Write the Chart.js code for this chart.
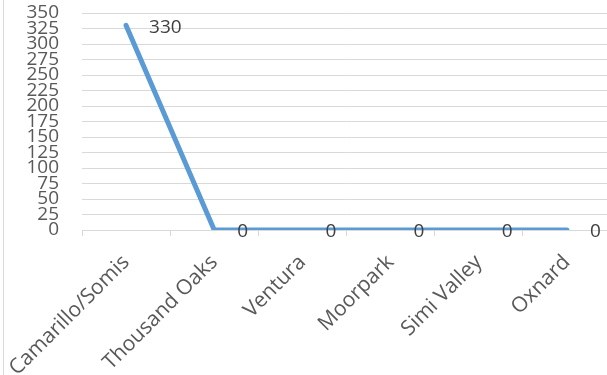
<!DOCTYPE html>
<html>
<head>
<meta charset="utf-8">
<script src="https://cdn.jsdelivr.net/npm/chart.js@4.4.1/dist/chart.umd.min.js"></script>
<style>
    html, body { margin: 0; padding: 0; overflow: hidden; background: #fff; }
    #wrap { position: relative; width: 620px; height: 375px; }
    #frame { position: absolute; left: 3px; top: 0; width: 0; height: 375px; border-left: 1px solid #d9d9d9; }
</style>
</head>
<body>
<div id="wrap">
    <canvas id="chartCanvas" width="620" height="375"></canvas>
    <div id="frame"></div>
</div>
<script>
// datos
const categories = ["Camarillo/Somis", "Thousand Oaks", "Ventura", "Moorpark", "Simi Valley", "Oxnard"];
const seriesValues = [330, 0, 0, 0, 0, 0];
const yTicks = [0, 25, 50, 75, 100, 125, 150, 175, 200, 225, 250, 275, 300, 325, 350];

const fontFamily = "'Open Sans', sans-serif";

// etiquetas de datos a la derecha de cada punto
const dataLabels = {
    id: "dataLabels",
    afterDatasetsDraw(chart) {
        const ctx = chart.ctx;
        const meta = chart.getDatasetMeta(0);
        ctx.save();
        ctx.font = "19px " + fontFamily;
        ctx.fillStyle = "#404040";
        ctx.textAlign = "left";
        ctx.textBaseline = "middle";
        meta.data.forEach((pt, i) => {
            ctx.fillText(String(seriesValues[i]), pt.x + 23, pt.y + 2);
        });
        ctx.restore();
    }
};

const chart = new Chart(document.getElementById("chartCanvas").getContext("2d"), {
    type: "line",
    data: {
        labels: categories,
        datasets: [{
            data: seriesValues,
            borderColor: "#5b9bd5",
            borderWidth: 5,
            borderCapStyle: "round",
            borderJoinStyle: "miter",
            pointRadius: 0,
            tension: 0,
            fill: false
        }]
    },
    options: {
        responsive: false,
        animation: false,
        layout: { padding: { top: 13, right: 9, left: 0, bottom: 0 } },
        plugins: {
            legend: { display: false },
            tooltip: { enabled: false }
        },
        scales: {
            x: {
                offset: true,
                grid: {
                    offset: true,
                    drawOnChartArea: false,
                    drawTicks: true,
                    tickLength: 6,
                    color: "#d9d9d9"
                },
                border: { display: true, color: "#d9d9d9", width: 1 },
                ticks: {
                    autoSkip: false,
                    minRotation: 45,
                    maxRotation: 45,
                    padding: 14,
                    color: "#595959",
                    font: { family: fontFamily, size: 21 }
                },
                afterFit(scale) {
                    scale.height = 145;
                    scale.paddingLeft = 0;
                    scale.paddingRight = 0;
                }
            },
            y: {
                min: 0,
                max: 350,
                afterBuildTicks(scale) { scale.ticks = yTicks.map(v => ({ value: v })); },
                grid: { color: "#d9d9d9", drawTicks: false },
                border: { display: false },
                ticks: {
                    autoSkip: false,
                    padding: 23,
                    color: "#595959",
                    font: { family: fontFamily, size: 19, lineHeight: 1 }
                },
                afterFit(scale) {
                    scale.width = 82;
                    // el padding de las etiquetas no debe empujar el area hacia abajo
                    scale.paddingTop = 9;
                    scale.paddingBottom = 9;
                }
            }
        }
    },
    plugins: [dataLabels]
});
</script>
</body>
</html>
